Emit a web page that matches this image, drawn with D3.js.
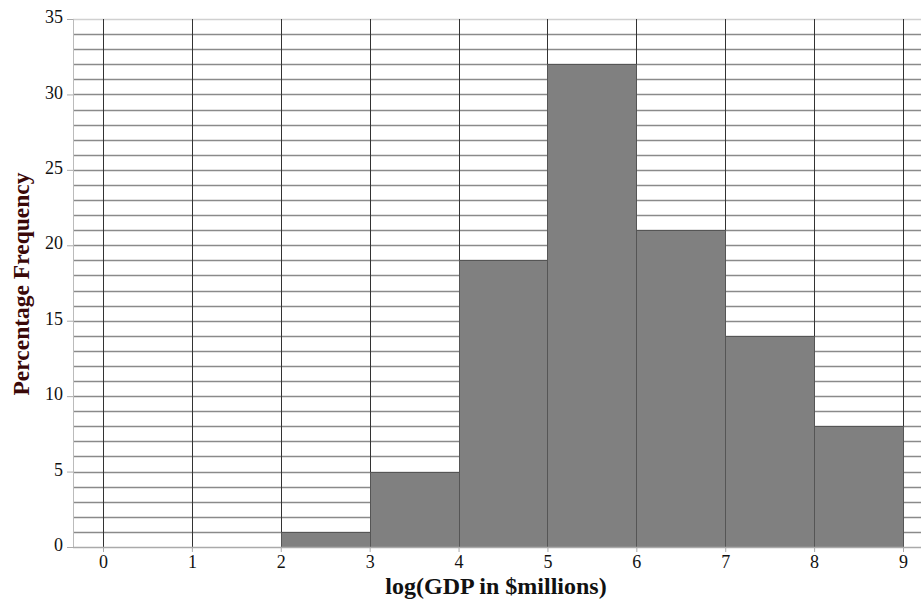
<!DOCTYPE html>
<html><head><meta charset="utf-8">
<script src="https://cdn.jsdelivr.net/npm/d3@7"></script>
<style>body{margin:0;background:#fff}svg{display:block}</style>
</head><body><svg id="c" width="921" height="600"></svg>
<script>
const binStarts = [0,1,2,3,4,5,6,7,8];
const binEnds   = [1,2,3,4,5,6,7,8,9];
const freqs     = [0,0,1,5,19,32,21,14,8];
const xTicks    = [0,1,2,3,4,5,6,7,8,9];
const yTicks    = [0,5,10,15,20,25,30,35];
const xLabel = "log(GDP in $millions)";
const yLabel = "Percentage Frequency";

const svg = d3.select("#c");
const L = 73, R = 921, T = 19, B = 547;
const x = d3.scaleLinear().domain([0, 9]).range([103, 903]);
const y = d3.scaleLinear().domain([0, 35]).range([B, T]);
const font = "'Liberation Serif','Times New Roman',serif";

const hg = d3.range(1, 35);
svg.append("g").selectAll("line").data(hg).join("line")
  .attr("x1", L).attr("x2", R)
  .attr("y1", d => Math.round(y(d)) + 0.5).attr("y2", d => Math.round(y(d)) + 0.5)
  .attr("stroke", "#8a8a8a").attr("stroke-width", 1.3);
svg.append("line").attr("x1", L).attr("x2", R)
  .attr("y1", Math.round(y(35)) + 0.5).attr("y2", Math.round(y(35)) + 0.5)
  .attr("stroke", "#d0d0d0").attr("stroke-width", 1.5);
svg.append("g").selectAll("line").data(xTicks).join("line")
  .attr("x1", d => Math.round(x(d)) + 0.5).attr("x2", d => Math.round(x(d)) + 0.5)
  .attr("y1", T).attr("y2", B)
  .attr("stroke", "#333").attr("stroke-width", 1);
svg.append("line").attr("x1", L + 0.5).attr("x2", L + 0.5).attr("y1", T).attr("y2", B + 0.5)
  .attr("stroke", "#bbb").attr("stroke-width", 1);

const bars = binStarts.map((s, i) => ({s, e: binEnds[i], v: freqs[i]})).filter(d => d.v > 0);
svg.append("g").selectAll("rect").data(bars).join("rect")
  .attr("x", d => Math.round(x(d.s)) + 0.5)
  .attr("width", d => Math.round(x(d.e)) - Math.round(x(d.s)))
  .attr("y", d => Math.round(y(d.v)) + 0.5)
  .attr("height", d => Math.round(y(0)) - Math.round(y(d.v)))
  .attr("fill", "#808080").attr("stroke", "#555").attr("stroke-width", 1);

svg.append("line").attr("x1", L).attr("x2", R).attr("y1", B + 0.5).attr("y2", B + 0.5)
  .attr("stroke", "#aaa").attr("stroke-width", 1.5);

const yAxis = svg.append("g").attr("transform", `translate(${L},0)`)
  .call(d3.axisLeft(y).tickValues(yTicks).tickSize(6).tickPadding(4).tickFormat(d3.format("d")));
yAxis.select(".domain").remove();
yAxis.selectAll("line").attr("stroke", "#aaa");
yAxis.selectAll("text").attr("font-family", font).attr("font-size", 18).attr("fill", "#111")
  .attr("dy", "0.2em");

const xAxis = svg.append("g").attr("transform", `translate(0,${B})`)
  .call(d3.axisBottom(x).tickValues(xTicks).tickSize(5).tickPadding(3).tickFormat(d3.format("d")));
xAxis.select(".domain").remove();
xAxis.selectAll("line").attr("stroke", "#aaa");
xAxis.selectAll("text").attr("font-family", font).attr("font-size", 18).attr("fill", "#111");

svg.append("text").attr("x", 496).attr("y", 594).attr("text-anchor", "middle")
  .attr("font-family", font).attr("font-weight", "bold").attr("font-size", 24).attr("fill", "#111")
  .text(xLabel);
svg.append("text").attr("transform", "translate(29,284) rotate(-90)").attr("text-anchor", "middle")
  .attr("font-family", font).attr("font-weight", "bold").attr("font-size", 23.5).attr("fill", "#3a0808")
  .text(yLabel);
</script></body></html>
